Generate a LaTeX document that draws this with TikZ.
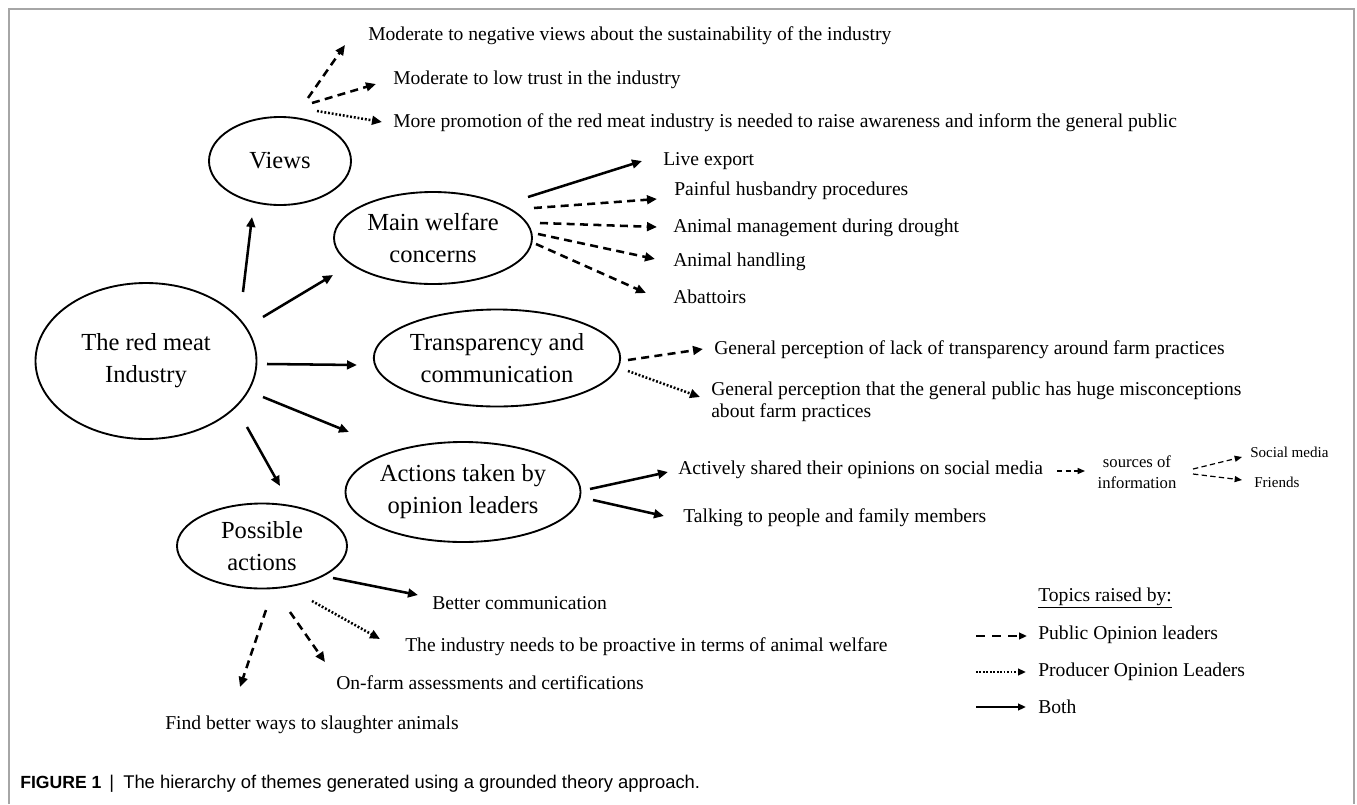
\documentclass[tikz,border=0pt]{standalone}
\usepackage{fontspec}
\setmainfont{Liberation Serif}
\newfontfamily\capfont{Liberation Sans}
\usetikzlibrary{arrows.meta,shapes.geometric}
\begin{document}
\begin{tikzpicture}[x=0.75pt,y=-0.75pt,
  ell/.style={draw,ellipse,line width=1.4pt,inner sep=0pt,align=center,font=\fontsize{18.4}{24}\selectfont},
  item/.style={anchor=west,inner sep=0pt,font=\fontsize{14.7}{16.8}\selectfont,align=left},
  arr/.style={line width=1.9pt,-{Triangle[length=7.5pt,width=6.5pt]}},
  solidarr/.style={arr},
  dasharr/.style={arr,dash pattern=on 6pt off 4pt},
  dotarr/.style={arr,dash pattern=on 1.4pt off 1.4pt},
  thindash/.style={line width=0.9pt,dash pattern=on 4pt off 2.5pt,-{Triangle[length=5.5pt,width=4.5pt]}},
  legarr/.style={line width=1.6pt,-{Triangle[length=6pt,width=5pt]}},
  captext/.style={anchor=base west,inner sep=0pt,font=\capfont\fontsize{13.8}{16}\selectfont},
]
\useasboundingbox (0,0) rectangle (1357,804);
\draw[gray!70,line width=1.1pt] (9,804) -- (9,9) -- (1354,9) -- (1354,804);

% main ellipses
\node[ell,minimum width=165.75pt,minimum height=117pt] (ind) at (146,361) {The red meat\\Industry};
\node[ell,minimum width=106.5pt,minimum height=66pt] (views) at (280,161) {Views};
\node[ell,minimum width=148.5pt,minimum height=69pt] (main) at (433,238) {Main welfare\\concerns};
\node[ell,minimum width=181.5pt,minimum height=72.75pt] (trans) at (497,358) {Transparency and\\communication};
\node[ell,minimum width=168.75pt,minimum height=75pt] (act) at (463,492) {Actions taken by\\opinion leaders};
\node[ell,minimum width=127.5pt,minimum height=63.75pt] (poss) at (262,546) {Possible\\actions};

% items
\node[item] (v1) at (368,36) {Moderate to negative views about the sustainability of the industry};
\node[item] (v2) at (393,80) {Moderate to low trust in the industry};
\node[item] (v3) at (393,123) {More promotion of the red meat industry is needed to raise awareness and inform the general public};
\node[item] (m1) at (663,161) {Live export};
\node[item] (m2) at (674,191) {Painful husbandry procedures};
\node[item] (m3) at (673,228) {Animal management during drought};
\node[item] (m4) at (673,262) {Animal handling};
\node[item] (m5) at (673,297) {Abattoirs};
\node[item] (t1) at (714,350) {General perception of lack of transparency around farm practices};
\node[item] (t2) at (711,402) {General perception that the general public has huge misconceptions\\about farm practices};
\node[item] (a1) at (678,470) {Actively shared their opinions on social media};
\node[item] (a2) at (683,518) {Talking to people and family members};
\node[align=center,inner sep=0pt,font=\fontsize{12.5}{15.8}\selectfont] (src) at (1137,472) {sources of\\information};
\node[item,font=\fontsize{11.3}{13}\selectfont] (sm) at (1250,452) {Social media};
\node[item,font=\fontsize{11.3}{13}\selectfont] (fr) at (1254,482) {Friends};
\node[item] (p1) at (432,603) {Better communication};
\node[item] (p2) at (405,647) {The industry needs to be proactive in terms of animal welfare};
\node[item] (p3) at (336,683) {On-farm assessments and certifications};
\node[item] (p4) at (165,725) {Find better ways to slaughter animals};

% legend
\node[item] (lg0) at (1038,598) {\underline{Topics raised by:}};
\node[item] (lg1) at (1038,635) {Public Opinion leaders};
\node[item] (lg2) at (1038,672) {Producer Opinion Leaders};
\node[item] (lg3) at (1038,707) {Both};

% caption
\node[captext,font=\capfont\bfseries\fontsize{13.2}{16}\selectfont] (capA) at (20,788) {FIGURE 1};
\node[captext] (capB) at (109,788) {|};
\node[captext] (capC) at (123,788) {The hierarchy of themes generated using a grounded theory approach.};

% coordinates
\coordinate (i1s) at (243,292); \coordinate (i1e) at (252,217);
\coordinate (i2s) at (263,317); \coordinate (i2e) at (333,275);
\coordinate (i3s) at (267,364); \coordinate (i3e) at (357,365);
\coordinate (i4s) at (263,397); \coordinate (i4e) at (349,432);
\coordinate (i5s) at (247,427); \coordinate (i5e) at (280,486);

\coordinate (v1s) at (308,98);  \coordinate (v1e) at (345,45);
\coordinate (v2s) at (312,103); \coordinate (v2e) at (376,84);
\coordinate (v3s) at (317,111); \coordinate (v3e) at (382,122);

\coordinate (m1s) at (528,197); \coordinate (m1e) at (642,161);
\coordinate (m2s) at (534,208); \coordinate (m2e) at (657,199);
\coordinate (m3s) at (540,223); \coordinate (m3e) at (657,227);
\coordinate (m4s) at (538,234); \coordinate (m4e) at (655,259);
\coordinate (m5s) at (536,244); \coordinate (m5e) at (646,293);

\coordinate (t1s) at (628,360); \coordinate (t1e) at (703,349);
\coordinate (t2s) at (628,371); \coordinate (t2e) at (700,397);

\coordinate (a1s) at (590,489); \coordinate (a1e) at (668,472);
\coordinate (a2s) at (593,500); \coordinate (a2e) at (664,516);

\coordinate (s0s) at (1057,471); \coordinate (s0e) at (1085,471);
\coordinate (s1s) at (1193,469); \coordinate (s1e) at (1242,457);
\coordinate (s2s) at (1193,474); \coordinate (s2e) at (1242,480);

\coordinate (p1s) at (333,578); \coordinate (p1e) at (418,595);
\coordinate (p2s) at (312,601); \coordinate (p2e) at (380,639);
\coordinate (p3s) at (290,612); \coordinate (p3e) at (325,662);
\coordinate (p4s) at (266,610); \coordinate (p4e) at (240,687);

\coordinate (l1s) at (976,636); \coordinate (l1e) at (1027,636);
\coordinate (l2s) at (976,672); \coordinate (l2e) at (1026,672);
\coordinate (l3s) at (976,707); \coordinate (l3e) at (1026,707);

% connectors
\draw[solidarr] (i1s) -- (i1e);
\draw[solidarr] (i2s) -- (i2e);
\draw[solidarr] (i3s) -- (i3e);
\draw[solidarr] (i4s) -- (i4e);
\draw[solidarr] (i5s) -- (i5e);

\draw[dasharr] (v1s) -- (v1e);
\draw[dasharr] (v2s) -- (v2e);
\draw[dotarr] (v3s) -- (v3e);

\draw[solidarr] (m1s) -- (m1e);
\draw[dasharr] (m2s) -- (m2e);
\draw[dasharr] (m3s) -- (m3e);
\draw[dasharr] (m4s) -- (m4e);
\draw[dasharr] (m5s) -- (m5e);

\draw[dasharr] (t1s) -- (t1e);
\draw[dotarr] (t2s) -- (t2e);

\draw[solidarr] (a1s) -- (a1e);
\draw[solidarr] (a2s) -- (a2e);

\draw[thindash] (s0s) -- (s0e);
\draw[thindash] (s1s) -- (s1e);
\draw[thindash] (s2s) -- (s2e);

\draw[solidarr] (p1s) -- (p1e);
\draw[dotarr] (p2s) -- (p2e);
\draw[dasharr] (p3s) -- (p3e);
\draw[dasharr] (p4s) -- (p4e);

\draw[legarr,dash pattern=on 7pt off 5pt] (l1s) -- (l1e);
\draw[legarr,dash pattern=on 1.3pt off 1.3pt] (l2s) -- (l2e);
\draw[legarr] (l3s) -- (l3e);
\end{tikzpicture}
\end{document}
